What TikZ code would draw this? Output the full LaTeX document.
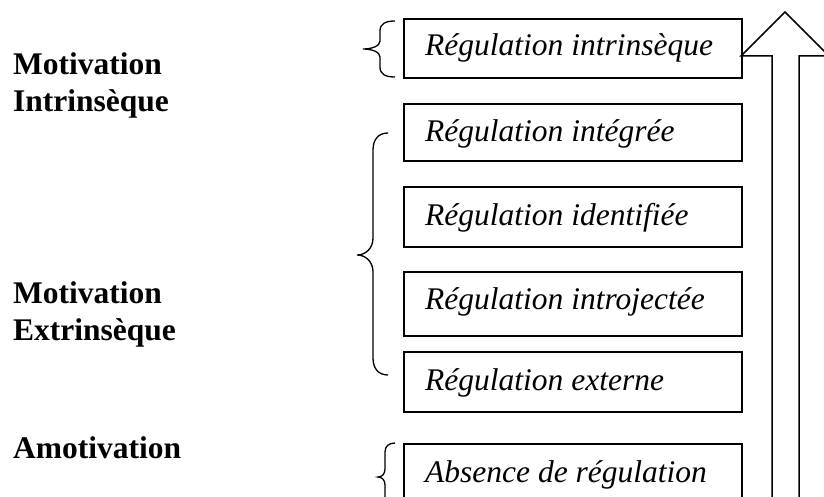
\documentclass[tikz,border=0pt]{standalone}
\usepackage{fontspec}
\setmainfont{Liberation Serif}
\begin{document}
\begin{tikzpicture}[x=1pt,y=-1pt,
  box/.style={draw,line width=1.5pt,inner sep=0pt},
  itx/.style={anchor=base west,inner sep=0pt,font=\fontsize{31.5}{36}\selectfont\itshape},
  lab/.style={anchor=base west,inner sep=0pt,font=\fontsize{31.5}{36}\selectfont\bfseries},
  brace/.style={line width=1.3pt},
  arr/.style={line width=1.5pt,line join=miter}]
\useasboundingbox (0,0) rectangle (824,497);
\clip (0,0) rectangle (824,497);
% boxes
\draw[box] (404,19) rectangle (742,78) coordinate (b1c);
\draw[box] (404,104) rectangle (742,161);
\draw[box] (404,187) rectangle (742,247);
\draw[box] (404,272) rectangle (742,336);
\draw[box] (404,352) rectangle (742,412);
\draw[box] (404,444) rectangle (742,530);
\node[itx] (t1) at (425,56) {Régulation intrinsèque};
\node[itx] (t2) at (425,142) {Régulation intégrée};
\node[itx] (t3) at (425,225) {Régulation identifiée};
\node[itx] (t4) at (425,309) {Régulation introjectée};
\node[itx] (t5) at (425,390) {Régulation externe};
\node[itx] (t6) at (425,482) {Absence de régulation};
% left labels
\node[lab] (m1) at (13,75) {Motivation};
\node[lab] (m2) at (13,112) {Intrinsèque};
\node[lab] (m3) at (13,303) {Motivation};
\node[lab] (m4) at (13,340) {Extrinsèque};
\node[lab] (m5) at (13,458) {Amotivation};
% braces
\draw[brace] (395,21) .. controls (385,21) and (380,24) .. (380,31) -- (380,41)
  .. controls (380,46) and (372,49) .. (363,49)
  .. controls (372,49) and (380,52) .. (380,57) -- (380,67)
  .. controls (380,74) and (385,77) .. (395,77);
\draw[brace] (388,133) .. controls (378,133) and (373,140) .. (373,150) -- (373,238)
  .. controls (373,248) and (366,255) .. (357,255)
  .. controls (366,255) and (373,262) .. (373,272) -- (373,358)
  .. controls (373,368) and (378,375) .. (388,375);
\draw[brace] (395,443) .. controls (389,443) and (385,446) .. (385,452) -- (385,469)
  .. controls (385,474) and (382,477) .. (378,477)
  .. controls (382,477) and (385,480) .. (385,485) -- (385,510);
% block arrow
\draw[arr] (772,520) -- (772,56) -- (741,56) -- (785,12) -- (829,56) -- (799,56) -- (799,520);
\end{tikzpicture}
\end{document}
